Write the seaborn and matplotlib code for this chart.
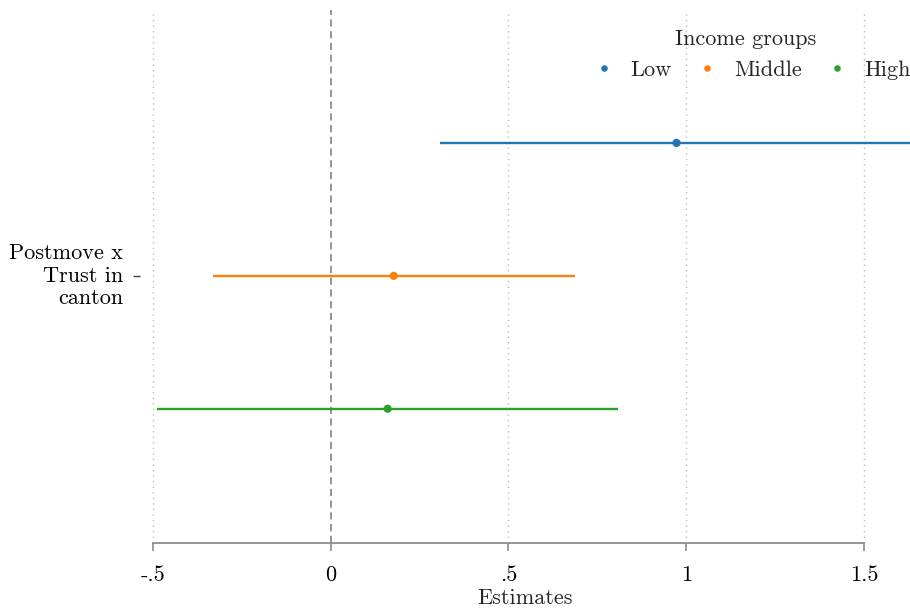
import matplotlib.pyplot as plt
import seaborn as sns
import pandas as pd
import numpy as np

# coefficient estimates per income group
groups = ["Low", "Middle", "High"]
estimates = [0.973, 0.177, 0.160]
ci_low = [0.307, -0.332, -0.489]
ci_high = [1.66, 0.686, 0.807]
colors = ["#1f77b4", "#ff7f0e", "#2ca02c"]

xticks = [-0.5, 0, 0.5, 1, 1.5]
xtick_labels = ["-.5", "0", ".5", "1", "1.5"]
ylabel_text = "Postmove x\nTrust in\ncanton"

sns.set_theme(style="white")
plt.rcParams['font.family'] = ['cmr10', 'DejaVu Serif']
plt.rcParams['axes.formatter.use_mathtext'] = True

df = pd.DataFrame({"group": groups, "est": estimates, "lo": ci_low, "hi": ci_high})
# stack the groups around the single coefficient row
df["pos"] = (len(groups) - 1) / 2 - np.arange(len(groups))

fig = plt.figure(figsize=(9.1, 6.08), dpi=100)
ax = fig.add_axes([140 / 910, 1 - 543 / 608, 1 - 140 / 910, (543 - 10) / 608])

# grid and zero line
for t in xticks:
    if t == 0:
        ax.axvline(t, color="#8c8c8c", lw=1.3, ls=(0, (4, 2.5)), zorder=1)
    else:
        ax.axvline(t, color="#bdbdbd", lw=1.0, ls=(0, (1, 3)), zorder=1)

for i, row in df.iterrows():
    ax.hlines(row["pos"], row["lo"], row["hi"], color=colors[i], lw=1.7, zorder=2)

sns.scatterplot(data=df, x="est", y="pos", hue="group", palette=colors,
                s=35, edgecolor="none", zorder=3, ax=ax)

fs = 16
ax.set_xlim(-0.537, 1.63)
ax.set_ylim(-2.01, 2.0)
ax.set_xticks(xticks)
ax.set_xticklabels(xtick_labels, fontsize=fs)
ax.set_yticks([0])
ax.set_yticklabels([ylabel_text], fontsize=fs, ha="right", va="center", linespacing=1.2)
ax.set_xlabel("Estimates", fontsize=fs, labelpad=3)
ax.set_ylabel("")

for s in ["top", "right", "left"]:
    ax.spines[s].set_visible(False)
ax.spines["bottom"].set_bounds(-0.5, 1.5)
ax.spines["bottom"].set_color("#8c8c8c")
ax.spines["bottom"].set_linewidth(1.3)
ax.tick_params(axis="x", bottom=True, length=6, width=1.2, color="#8c8c8c", pad=10, labelcolor="black")
ax.tick_params(axis="y", left=True, length=5, width=1.0, color="#404040", pad=7, labelcolor="black")

leg = ax.legend(title="Income groups", loc="upper right", ncol=3, frameon=False,
                fontsize=fs, title_fontsize=fs, handletextpad=0.2, columnspacing=0.6,
                markerscale=0.8, borderaxespad=0.0, bbox_to_anchor=(1.012, 0.98))

fig.savefig("out.png", dpi=100)
